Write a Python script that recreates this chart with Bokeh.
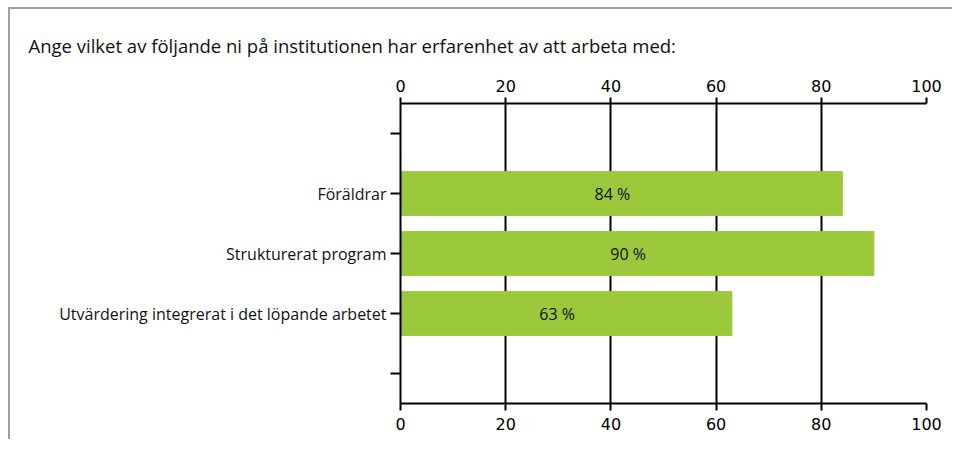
from bokeh.plotting import figure
from bokeh.models import Range1d, FixedTicker, LinearAxis, ColumnDataSource
from bokeh.embed import file_html
from bokeh.resources import INLINE
from bokeh.core.properties import value

title_text = "Ange vilket av följande ni på institutionen har erfarenhet av att arbeta med:"
categories = ["Föräldrar", "Strukturerat program", "Utvärdering integrerat i det löpande arbetet"]
values = [84, 90, 63]
x_ticks = [0, 20, 40, 60, 80, 100]

n_slots = len(categories) + 2
ypos = [i + 2 for i in range(len(categories))]
src = ColumnDataSource(dict(y=ypos, v=values, half=[v / 2 for v in values],
                            lab=[f"{v} %" for v in values]))

FONT = "Open Sans"
TICKFONT = "DejaVu Sans"

p = figure(frame_width=526, frame_height=300, output_backend="svg", toolbar_location=None,
           x_range=Range1d(0, 100), y_range=Range1d(n_slots + 0.5, 0.5),
           x_axis_location=None, y_axis_location="left",
           min_border_left=390, min_border_right=26, min_border_bottom=36, min_border_top=94)
p.title.text = title_text
p.title.align = "left"
p.title.offset = -372
p.title.text_font = FONT
p.title.text_font_size = "18.5px"
p.title.text_font_style = "normal"
p.title.text_color = "#111111"
p.title.standoff = 38
p.outline_line_color = None

p.hbar(y="y", right="v", left=0, height=0.73, source=src, color="#9BC93B")
p.text(x="half", y="y", text="lab", source=src, text_align="center", text_baseline="middle",
       x_offset=-9, text_font=value(FONT), text_font_size="16px", text_color="#111111")

for loc in ["above", "below"]:
    ax = LinearAxis(ticker=FixedTicker(ticks=x_ticks))
    ax.axis_line_width = 2
    ax.axis_line_color = "black"
    ax.major_tick_line_width = 2
    ax.major_tick_line_color = "black"
    ax.major_tick_in = 0
    ax.major_tick_out = 6 if loc == "above" else 7
    ax.minor_tick_line_color = None
    ax.major_label_text_font = TICKFONT
    ax.major_label_text_font_size = "16px"
    ax.major_label_text_color = "black"
    ax.major_label_standoff = 6 if loc == "above" else 7
    p.add_layout(ax, loc)

ya = p.yaxis[0]
ya.ticker = FixedTicker(ticks=list(range(1, n_slots + 1)))
ya.major_label_overrides = {y: c for y, c in zip(ypos, categories)}
ya.major_label_overrides.update({1: "", n_slots: ""})
ya.axis_line_width = 2
ya.axis_line_color = "black"
ya.major_tick_line_width = 2
ya.major_tick_in = 0
ya.major_tick_out = 10
ya.minor_tick_line_color = None
ya.major_label_text_font = FONT
ya.major_label_text_font_size = "16px"
ya.major_label_text_color = "#111111"
ya.major_label_standoff = 4

p.xgrid.ticker = FixedTicker(ticks=x_ticks)
p.xgrid.grid_line_color = "black"
p.xgrid.grid_line_width = 2
p.ygrid.grid_line_color = None

p.styles = {"border-top": "2px solid #a0a0a0", "border-left": "2px solid #a0a0a0",
            "margin-top": "7px", "margin-left": "8px"}

open("out.html", "w").write(file_html(p, INLINE))
